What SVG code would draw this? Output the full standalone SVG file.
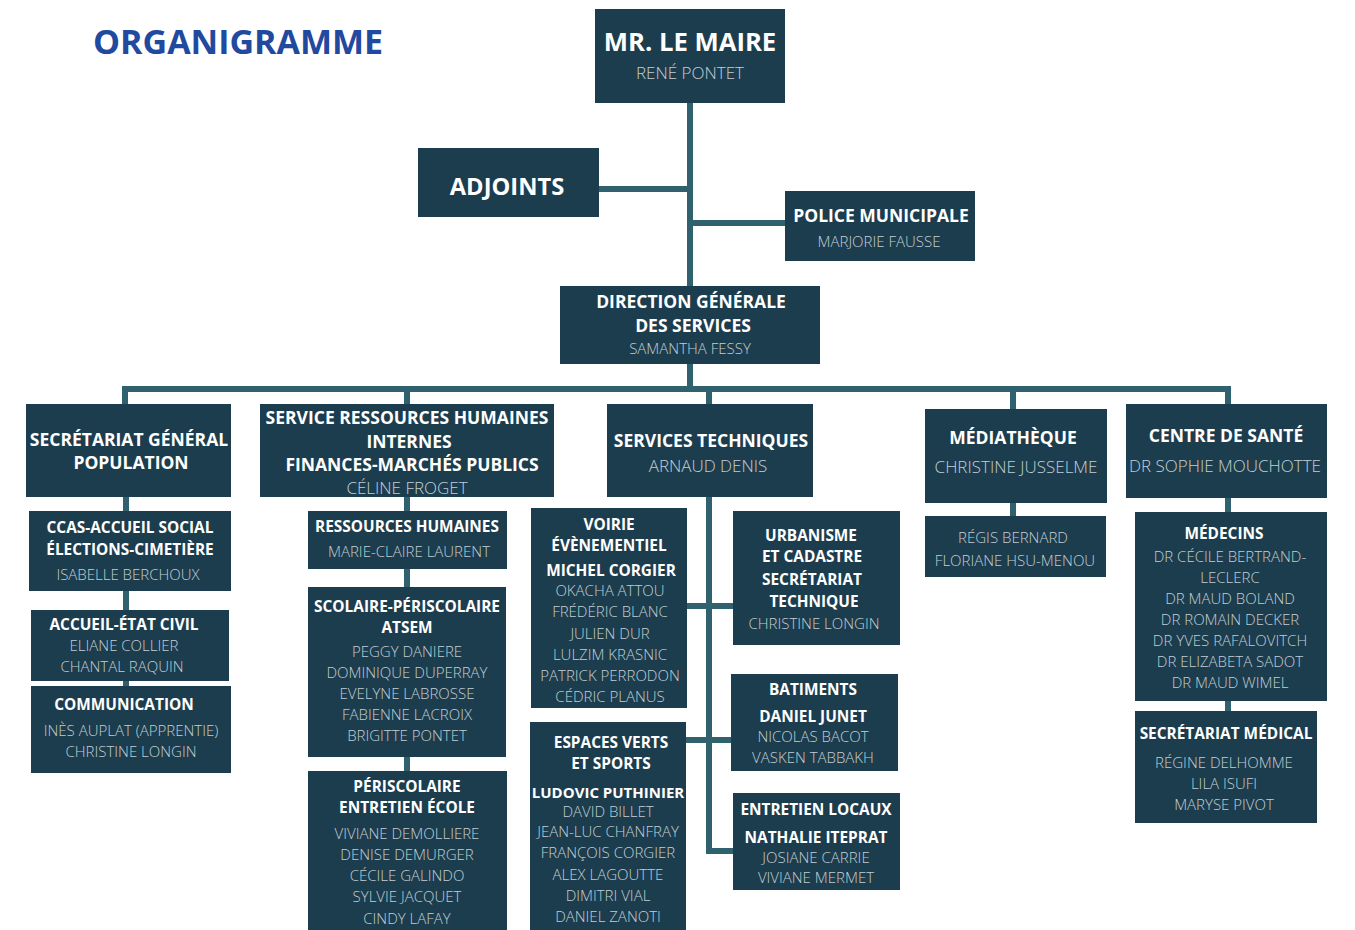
<svg xmlns="http://www.w3.org/2000/svg" width="1355" height="930" viewBox="0 0 1355 930">
<style>
.b{fill:#1c3d4e}
.c{stroke:#30616f;stroke-width:6;fill:none}
text{font-family:"Open Sans","Liberation Sans",sans-serif;text-anchor:middle}
.h{fill:#ffffff;font-weight:700;font-size:15.4px}
.hl{fill:#ffffff;font-weight:700;font-size:17.5px}
.n{fill:#c3ced4;font-weight:300;font-size:15px}
.nl{fill:#c3ced4;font-weight:300;font-size:17px}
.t{fill:#1f4a9f;font-weight:700;font-size:34px;text-anchor:start}
</style>
<rect width="1355" height="930" fill="#ffffff"/>
<text class="t" x="93" y="54">ORGANIGRAMME</text>
<g id="connectors">
<path class="c" d="M690 103V389M599 189H690M690 223H785"/>
<path class="c" d="M122 389H1231M125 389V404M407 389V404M709 389V404M1013 389V409M1228 389V404"/>
<path class="c" d="M126 497V511M126 591V610M126 681V686"/>
<path class="c" d="M407 497V511M407 569V587M407 757V771"/>
<path class="c" d="M709 497V851H733M686 606H733M686 740H731"/>
<path class="c" d="M1013 503V516M1228 498V512M1228 701V711"/>
</g>
<g id="maire"><rect class="b" x="595" y="9" width="190" height="94"/>
<text class="hl" x="690" y="51" style="font-size:25.7px">MR. LE MAIRE</text>
<text class="nl" x="690" y="79">RENÉ PONTET</text></g>
<g id="adjoints"><rect class="b" x="418" y="148" width="181" height="69"/>
<text class="hl" x="507" y="195" style="font-size:23.7px">ADJOINTS</text></g>
<g id="police"><rect class="b" x="785" y="191" width="190" height="70"/>
<text class="hl" x="881" y="222">POLICE MUNICIPALE</text>
<text class="n" x="879" y="247">MARJORIE FAUSSE</text></g>
<g id="dgs"><rect class="b" x="560" y="286" width="260" height="78"/>
<text class="hl" x="691" y="308">DIRECTION GÉNÉRALE</text>
<text class="hl" x="693" y="332">DES SERVICES</text>
<text class="n" x="690" y="354">SAMANTHA FESSY</text></g>
<g id="secgen"><rect class="b" x="26" y="404" width="205" height="93"/>
<text class="hl" x="129" y="446">SECRÉTARIAT GÉNÉRAL</text>
<text class="hl" x="131" y="469">POPULATION</text></g>
<g id="ccas"><rect class="b" x="29" y="511" width="202" height="80"/>
<text class="h" x="130" y="533">CCAS-ACCUEIL SOCIAL</text>
<text class="h" x="130" y="555">ÉLECTIONS-CIMETIÈRE</text>
<text class="n" x="128" y="580">ISABELLE BERCHOUX</text></g>
<g id="etatcivil"><rect class="b" x="31" y="610" width="198" height="71"/>
<text class="h" x="124" y="630">ACCUEIL-ÉTAT CIVIL</text>
<text class="n" x="124" y="651">ELIANE COLLIER</text>
<text class="n" x="122" y="672">CHANTAL RAQUIN</text></g>
<g id="communication"><rect class="b" x="31" y="686" width="200" height="87"/>
<text class="h" x="124" y="710">COMMUNICATION</text>
<text class="n" x="131" y="736">INÈS AUPLAT (APPRENTIE)</text>
<text class="n" x="131" y="757">CHRISTINE LONGIN</text></g>
<g id="srh"><rect class="b" x="260" y="404" width="294" height="93"/>
<text class="hl" x="407" y="424">SERVICE RESSOURCES HUMAINES</text>
<text class="hl" x="409" y="448">INTERNES</text>
<text class="hl" x="412" y="471">FINANCES-MARCHÉS PUBLICS</text>
<text class="nl" x="407" y="494">CÉLINE FROGET</text></g>
<g id="rh"><rect class="b" x="308" y="511" width="199" height="58"/>
<text class="h" x="407" y="532">RESSOURCES HUMAINES</text>
<text class="n" x="409" y="557">MARIE-CLAIRE LAURENT</text></g>
<g id="scolaire"><rect class="b" x="308" y="587" width="198" height="170"/>
<text class="h" x="407" y="612">SCOLAIRE-PÉRISCOLAIRE</text>
<text class="h" x="407" y="633">ATSEM</text>
<text class="n" x="407" y="657">PEGGY DANIERE</text>
<text class="n" x="407" y="678">DOMINIQUE DUPERRAY</text>
<text class="n" x="407" y="699">EVELYNE LABROSSE</text>
<text class="n" x="407" y="720">FABIENNE LACROIX</text>
<text class="n" x="407" y="741">BRIGITTE PONTET</text></g>
<g id="periscolaire"><rect class="b" x="308" y="771" width="199" height="159"/>
<text class="h" x="407" y="792">PÉRISCOLAIRE</text>
<text class="h" x="407" y="813">ENTRETIEN ÉCOLE</text>
<text class="n" x="407" y="839">VIVIANE DEMOLLIERE</text>
<text class="n" x="407" y="860">DENISE DEMURGER</text>
<text class="n" x="407" y="881">CÉCILE GALINDO</text>
<text class="n" x="407" y="902">SYLVIE JACQUET</text>
<text class="n" x="407" y="924">CINDY LAFAY</text></g>
<g id="techniques"><rect class="b" x="607" y="404" width="206" height="93"/>
<text class="hl" x="711" y="447">SERVICES TECHNIQUES</text>
<text class="nl" x="708" y="472">ARNAUD DENIS</text></g>
<g id="voirie"><rect class="b" x="531" y="508" width="156" height="200"/>
<text class="h" x="609" y="530">VOIRIE</text>
<text class="h" x="609" y="551">ÉVÈNEMENTIEL</text>
<text class="h" x="611" y="576">MICHEL CORGIER</text>
<text class="n" x="610" y="596">OKACHA ATTOU</text>
<text class="n" x="610" y="617">FRÉDÉRIC BLANC</text>
<text class="n" x="610" y="639">JULIEN DUR</text>
<text class="n" x="610" y="660">LULZIM KRASNIC</text>
<text class="n" x="610" y="681">PATRICK PERRODON</text>
<text class="n" x="610" y="702">CÉDRIC PLANUS</text></g>
<g id="urbanisme"><rect class="b" x="733" y="511" width="167" height="134"/>
<text class="h" x="811" y="541">URBANISME</text>
<text class="h" x="812" y="562">ET CADASTRE</text>
<text class="h" x="812" y="585">SECRÉTARIAT</text>
<text class="h" x="814" y="607">TECHNIQUE</text>
<text class="n" x="814" y="629">CHRISTINE LONGIN</text></g>
<g id="espaces"><rect class="b" x="530" y="722" width="156" height="208"/>
<text class="h" x="611" y="748">ESPACES VERTS</text>
<text class="h" x="611" y="769">ET SPORTS</text>
<text class="h" x="608" y="798" style="font-size:15px">LUDOVIC PUTHINIER</text>
<text class="n" x="608" y="817">DAVID BILLET</text>
<text class="n" x="608" y="837">JEAN-LUC CHANFRAY</text>
<text class="n" x="608" y="858">FRANÇOIS CORGIER</text>
<text class="n" x="608" y="880">ALEX LAGOUTTE</text>
<text class="n" x="608" y="901">DIMITRI VIAL</text>
<text class="n" x="608" y="922">DANIEL ZANOTI</text></g>
<g id="batiments"><rect class="b" x="731" y="674" width="167" height="97"/>
<text class="h" x="813" y="695">BATIMENTS</text>
<text class="h" x="813" y="722">DANIEL JUNET</text>
<text class="n" x="813" y="742">NICOLAS BACOT</text>
<text class="n" x="813" y="763">VASKEN TABBAKH</text></g>
<g id="entretien"><rect class="b" x="733" y="793" width="167" height="97"/>
<text class="h" x="816" y="815">ENTRETIEN LOCAUX</text>
<text class="h" x="816" y="843">NATHALIE ITEPRAT</text>
<text class="n" x="816" y="863">JOSIANE CARRIE</text>
<text class="n" x="816" y="883">VIVIANE MERMET</text></g>
<g id="mediatheque"><rect class="b" x="925" y="409" width="182" height="94"/>
<text class="hl" x="1013" y="444">MÉDIATHÈQUE</text>
<text class="nl" x="1016" y="473">CHRISTINE JUSSELME</text></g>
<g id="mediatheque-equipe"><rect class="b" x="925" y="516" width="181" height="61"/>
<text class="n" x="1013" y="543">RÉGIS BERNARD</text>
<text class="n" x="1015" y="566">FLORIANE HSU-MENOU</text></g>
<g id="sante"><rect class="b" x="1126" y="404" width="201" height="94"/>
<text class="hl" x="1226" y="442">CENTRE DE SANTÉ</text>
<text class="nl" x="1225" y="472">DR SOPHIE MOUCHOTTE</text></g>
<g id="medecins"><rect class="b" x="1135" y="512" width="192" height="189"/>
<text class="h" x="1224" y="539">MÉDECINS</text>
<text class="n" x="1230" y="562">DR CÉCILE BERTRAND-</text>
<text class="n" x="1230" y="583">LECLERC</text>
<text class="n" x="1230" y="604">DR MAUD BOLAND</text>
<text class="n" x="1230" y="625">DR ROMAIN DECKER</text>
<text class="n" x="1230" y="646">DR YVES RAFALOVITCH</text>
<text class="n" x="1230" y="667">DR ELIZABETA SADOT</text>
<text class="n" x="1230" y="688">DR MAUD WIMEL</text></g>
<g id="secmedical"><rect class="b" x="1135" y="711" width="182" height="112"/>
<text class="h" x="1226" y="739">SECRÉTARIAT MÉDICAL</text>
<text class="n" x="1224" y="768">RÉGINE DELHOMME</text>
<text class="n" x="1224" y="789">LILA ISUFI</text>
<text class="n" x="1224" y="810">MARYSE PIVOT</text></g>
</svg>
